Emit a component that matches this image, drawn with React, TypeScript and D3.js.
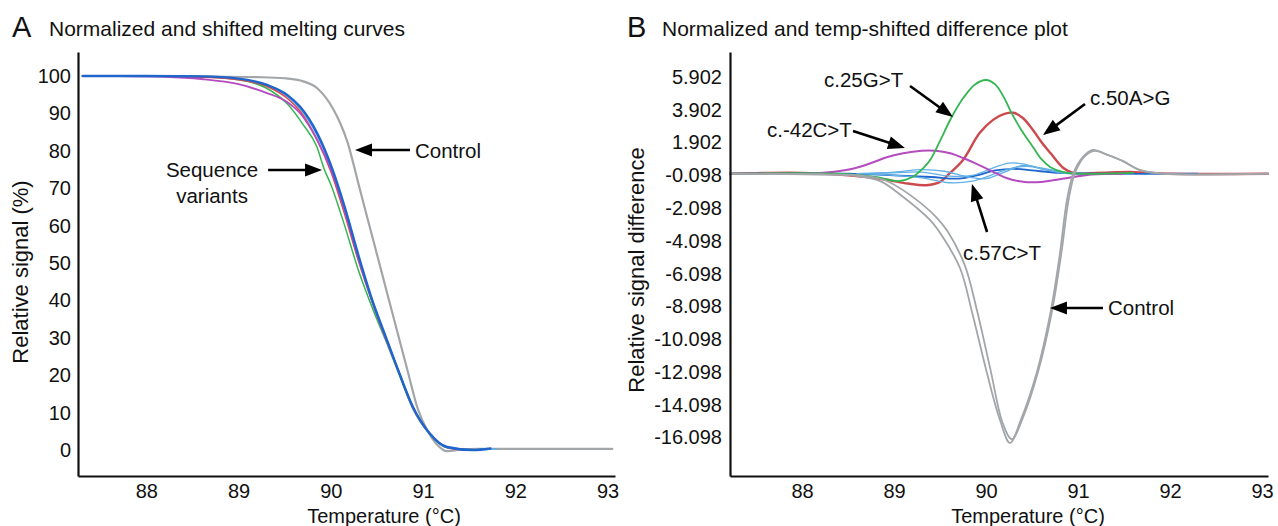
import React, { useEffect, useRef } from 'react';
import * as d3 from 'd3';

type Pt = [number, number];

const FONT = '"Liberation Sans", Arial, Helvetica, sans-serif';

// shared temperature ticks (°C)
const tempTicks = [88, 89, 90, 91, 92, 93];
// panel A: relative signal (%)
const signalTicks = [0, 10, 20, 30, 40, 50, 60, 70, 80, 90, 100];
// panel B: relative signal difference
const diffTicks = [5.902, 3.902, 1.902, -0.098, -2.098, -4.098, -6.098, -8.098, -10.098, -12.098, -14.098, -16.098];

// ---- panel A : normalized and shifted melting curves [temp, %] ----
const meltControl: Pt[] = [
  [87.31, 100], [88.0, 100], [88.6, 99.9], [89.2, 99.7], [89.5, 99.4], [89.67, 98.8], [89.85, 96.8],
  [90.03, 91], [90.1, 87.5], [90.18, 82.4], [90.29, 72.1], [90.37, 64.5], [90.54, 48.6], [90.61, 42],
  [90.83, 21.4], [90.94, 11.2], [91.05, 5], [91.15, 1.5], [91.26, -0.3], [91.4, 0.1], [91.6, 0.3], [93.05, 0.3]
];
const meltLightBlue: Pt[] = [
  [87.31, 100], [88.0, 100], [88.6, 99.9], [89.0, 99.2], [89.31, 97.4], [89.53, 94.5], [89.67, 91.2],
  [89.85, 84.2], [90.0, 75.8], [90.15, 64.6], [90.3, 51.6], [90.45, 39.8], [90.6, 29.8], [90.72, 22],
  [90.89, 11.4], [91.07, 4.5], [91.26, 0.8], [91.54, 0.1], [91.8, 0.3]
];
const meltGreen: Pt[] = [
  [87.5, 100], [88.0, 100], [88.6, 99.8], [89.0, 99], [89.3, 96.8], [89.53, 92.5], [89.7, 87],
  [89.85, 81], [89.93, 75], [90.0, 71], [90.15, 60], [90.3, 48], [90.45, 38], [90.6, 29],
  [90.72, 21.5], [90.89, 11], [91.07, 4.3], [91.26, 0.6], [91.5, 0]
];
const meltRed: Pt[] = [
  [87.7, 100], [88.0, 100], [88.6, 99.7], [89.0, 99], [89.31, 97.2], [89.53, 94], [89.67, 90.5],
  [89.85, 83], [90.0, 74.5], [90.15, 63], [90.3, 50.5], [90.45, 39.5], [90.6, 29.5], [90.72, 22],
  [90.89, 11.3], [91.07, 4.4], [91.26, 0.7], [91.5, 0.1]
];
const meltMagenta: Pt[] = [
  [87.69, 100], [88.2, 99.8], [88.6, 99.2], [89.0, 97.8], [89.3, 95.5], [89.53, 93], [89.67, 90],
  [89.85, 83], [90.0, 75], [90.15, 64], [90.3, 51], [90.45, 39.5], [90.6, 29.5], [90.72, 22],
  [90.89, 11.3], [91.07, 4.5], [91.26, 0.7], [91.45, 0]
];
const meltBlue: Pt[] = [
  [87.31, 100], [88.0, 100], [88.6, 99.9], [89.0, 99.3], [89.31, 97.6], [89.53, 94.9], [89.67, 91.7],
  [89.85, 84.8], [90.0, 76.2], [90.15, 65], [90.3, 52], [90.45, 40], [90.6, 30], [90.72, 22],
  [90.89, 11.5], [91.07, 4.5], [91.26, 0.8], [91.54, 0], [91.73, 0.4]
];

// ---- panel B : difference plot [temp, difference] ----
const diffControlA: Pt[] = [
  [87.22, 0], [88.3, -0.05], [88.6, -0.15], [88.85, -0.45], [89.1, -1.42], [89.39, -2.82], [89.53, -3.86],
  [89.72, -5.8], [89.85, -8.5], [90.01, -12.16], [90.15, -15.0], [90.26, -16.43], [90.38, -15.0],
  [90.55, -12.16], [90.7, -8.5], [90.8, -5.0], [90.88, -1.6], [90.95, 0.04], [91.05, 1.0], [91.16, 1.45],
  [91.3, 1.2], [91.46, 0.84], [91.67, 0.23], [91.9, 0.02], [93.065, 0]
];
const diffControlB: Pt[] = [
  [87.22, 0], [88.3, -0.05], [88.65, -0.12], [88.9, -0.4], [89.15, -1.2], [89.45, -2.6], [89.58, -3.5],
  [89.77, -5.6], [89.9, -8.3], [90.05, -12.0], [90.18, -15.2], [90.28, -16.2], [90.4, -14.9],
  [90.57, -12.0], [90.72, -8.3], [90.82, -4.8], [90.9, -1.5], [90.97, 0.1], [91.07, 1.05], [91.18, 1.4],
  [91.32, 1.15], [91.48, 0.8], [91.68, 0.2], [91.9, 0], [93.065, 0]
];
const diffRed: Pt[] = [
  [87.22, 0], [88.0, 0.05], [88.5, -0.1], [88.9, -0.35], [89.15, -0.6], [89.35, -0.7], [89.5, -0.5],
  [89.6, 0.0], [89.75, 0.84], [89.93, 2.48], [90.08, 3.3], [90.2, 3.65], [90.3, 3.72], [90.4, 3.4],
  [90.51, 2.67], [90.6, 1.95], [90.7, 1.26], [90.84, 0.35], [90.95, 0.05], [91.2, 0.05], [91.6, 0.1],
  [92.0, 0], [93.065, 0]
];
const diffGreen: Pt[] = [
  [87.22, 0], [88.4, 0], [88.8, -0.2], [89.05, -0.45], [89.2, -0.2], [89.32, 0.35], [89.4, 0.9],
  [89.5, 2.0], [89.61, 3.28], [89.75, 4.6], [89.88, 5.45], [90.0, 5.72], [90.1, 5.45], [90.2, 4.6],
  [90.26, 3.9], [90.38, 2.7], [90.51, 1.63], [90.6, 0.9], [90.7, 0.4], [90.84, 0.1], [91.0, 0], [91.6, 0.05]
];
const diffMagenta: Pt[] = [
  [87.22, 0], [88.1, 0.02], [88.35, 0.12], [88.55, 0.3], [88.75, 0.65], [88.92, 1.0], [89.1, 1.25],
  [89.3, 1.4], [89.45, 1.4], [89.61, 1.25], [89.75, 0.96], [89.88, 0.65], [90.01, 0.3], [90.12, 0.0],
  [90.23, -0.28], [90.35, -0.45], [90.45, -0.52], [90.6, -0.5], [90.73, -0.4], [90.95, -0.2],
  [91.15, -0.05], [91.5, 0]
];
const diffBlue: Pt[] = [
  [87.22, 0], [88.5, 0], [89.0, -0.1], [89.4, -0.2], [89.7, -0.3], [89.9, -0.1], [90.1, 0.2],
  [90.3, 0.3], [90.5, 0.2], [90.8, 0.05], [91.2, 0], [92.3, 0]
];
const diffSky1: Pt[] = [
  [88.6, 0], [89.0, 0.05], [89.3, 0.1], [89.6, -0.15], [89.85, -0.1], [90.1, 0.4], [90.25, 0.65],
  [90.4, 0.6], [90.6, 0.3], [90.85, 0.05], [91.2, 0]
];
const diffSky2: Pt[] = [
  [88.6, 0], [89.0, -0.1], [89.3, -0.25], [89.6, -0.55], [89.85, -0.45], [90.05, -0.1], [90.25, 0.3],
  [90.45, 0.45], [90.65, 0.25], [90.9, 0], [91.2, 0]
];
const diffSky3: Pt[] = [
  [88.6, 0], [89.0, 0.1], [89.3, 0.25], [89.55, 0.15], [89.8, -0.2], [90.0, -0.3], [90.2, 0.1],
  [90.4, 0.5], [90.6, 0.35], [90.85, 0.1], [91.2, 0]
];

// annotations, placed in data units: label position, arrow tail and arrow tip
type Note = { text: string[]; lx: number; ly: number; anchor: string; tail: Pt; tip: Pt };
const meltNotes: Note[] = [
  { text: ['Control'], lx: 90.912, ly: 80.2, anchor: 'start', tail: [90.858, 80.2], tip: [90.262, 80.2] },
  { text: ['Sequence', 'variants'], lx: 88.713, ly: 74.87, anchor: 'middle', tail: [89.32, 74.87], tip: [89.905, 74.87] }
];
const diffNotes: Note[] = [
  { text: ['c.25G>T'], lx: 88.239, ly: 5.72, anchor: 'start', tail: [89.174, 5.353], tip: [89.641, 3.461] },
  { text: ['c.50A>G'], lx: 91.13, ly: 4.681, anchor: 'start', tail: [91.076, 4.254], tip: [90.619, 2.362] },
  { text: ['c.-42C>T'], lx: 87.619, ly: 2.668, anchor: 'start', tail: [88.554, 2.607], tip: [89.119, 1.569] },
  { text: ['c.57C>T'], lx: 89.75, ly: -4.778, anchor: 'start', tail: [90.011, -3.557], tip: [89.847, -0.628] },
  { text: ['Control'], lx: 91.326, ly: -8.195, anchor: 'start', tail: [91.271, -8.195], tip: [90.695, -8.195] }
];

const GRAY = '#a2a6a9';
const BLUE = '#1f66cc';
const SKY = '#62b0e6';
const GREEN = '#35b552';
const RED = '#cc4a4e';
const MAGENTA = '#b44bbf';

const meltSeries = [
  { data: meltControl, color: GRAY, w: 2.2 },
  { data: meltLightBlue, color: SKY, w: 1.5 },
  { data: meltGreen, color: GREEN, w: 1.5 },
  { data: meltRed, color: '#e0464e', w: 1.5 },
  { data: meltMagenta, color: MAGENTA, w: 1.8 },
  { data: meltBlue, color: BLUE, w: 2.4 }
];
const diffSeries = [
  { data: diffRed, color: RED, w: 2.4 },
  { data: diffBlue, color: BLUE, w: 1.8 },
  { data: diffSky1, color: SKY, w: 1.3 },
  { data: diffSky2, color: SKY, w: 1.3 },
  { data: diffSky3, color: SKY, w: 1.3 },
  { data: diffMagenta, color: MAGENTA, w: 2 },
  { data: diffGreen, color: GREEN, w: 1.8 },
  { data: diffControlA, color: GRAY, w: 1.8 },
  { data: diffControlB, color: GRAY, w: 1.8 }
];

function arrow(g: any, x1: number, y1: number, x2: number, y2: number) {
  const ang = Math.atan2(y2 - y1, x2 - x1);
  const L = 17, W = 6.5;
  const bx = x2 - L * Math.cos(ang), by = y2 - L * Math.sin(ang);
  g.append('line').attr('x1', x1).attr('y1', y1).attr('x2', bx + 2 * Math.cos(ang)).attr('y2', by + 2 * Math.sin(ang))
    .attr('stroke', '#000').attr('stroke-width', 2.6);
  const px = -Math.sin(ang) * W, py = Math.cos(ang) * W;
  g.append('path').attr('d', `M${x2},${y2}L${bx + px},${by + py}L${bx - px},${by - py}Z`).attr('fill', '#000');
}

function drawPanel(svg: any, cfg: any) {
  const x = d3.scaleLinear().domain(cfg.xDomain).range([cfg.left, cfg.right]);
  const y = d3.scaleLinear().domain(cfg.yDomain).range([cfg.bottom, cfg.top]);
  const g = svg.append('g');

  // panel letter + title
  g.append('text').attr('x', cfg.letterX).attr('y', 37).attr('font-size', 29).attr('font-family', FONT)
    .attr('fill', '#111').text(cfg.letter);
  g.append('text').attr('x', cfg.titleX).attr('y', 36).attr('font-size', 21).attr('font-family', FONT)
    .attr('fill', '#111').text(cfg.title);

  // curves
  const line = d3.line<Pt>().x(d => x(d[0])).y(d => y(d[1])).curve(cfg.curve);
  cfg.series.forEach((s: any) => {
    g.append('path').attr('d', line(s.data)).attr('fill', 'none').attr('stroke', s.color)
      .attr('stroke-width', s.w).attr('stroke-linejoin', 'round').attr('stroke-linecap', 'round');
  });

  // axes
  const xAxis = g.append('g').attr('transform', `translate(0,${cfg.bottom})`)
    .call(d3.axisBottom(x).tickValues(tempTicks).tickSize(0).tickPadding(8).tickFormat((d: any) => String(d)));
  const yAxis = g.append('g').attr('transform', `translate(${cfg.left},0)`)
    .call(d3.axisLeft(y).tickValues(cfg.yTicks).tickSize(0).tickPadding(cfg.yPad).tickFormat(cfg.yFormat));
  [xAxis, yAxis].forEach(a => {
    a.attr('font-family', FONT).attr('font-size', 20);
    a.select('.domain').attr('stroke', '#111').attr('stroke-width', 2.2);
    a.selectAll('text').attr('fill', '#111');
  });

  // axis titles
  g.append('text').attr('x', cfg.xLabelX).attr('y', 516).attr('text-anchor', 'middle').attr('dominant-baseline', 'central')
    .attr('font-size', 20).attr('font-family', FONT).attr('fill', '#111').text('Temperature (°C)');
  g.append('text').attr('transform', `translate(${cfg.yLabelX},${cfg.yLabelY}) rotate(-90)`)
    .attr('text-anchor', 'middle').attr('dominant-baseline', 'central')
    .attr('font-size', 22).attr('font-family', FONT).attr('fill', '#111').text(cfg.yLabel);

  // annotations
  cfg.notes.forEach((n: Note) => {
    n.text.forEach((t, i) => {
      g.append('text').attr('x', x(n.lx)).attr('y', y(n.ly) + i * 26).attr('text-anchor', n.anchor)
        .attr('dominant-baseline', 'central').attr('font-size', 20.5).attr('font-family', FONT)
        .attr('fill', '#111').text(t);
    });
    arrow(g, x(n.tail[0]), y(n.tail[1]), x(n.tip[0]), y(n.tip[1]));
  });
}

export default function App() {
  const ref = useRef<SVGSVGElement>(null);

  useEffect(() => {
    const svg = d3.select(ref.current);
    svg.selectAll('*').remove();

    drawPanel(svg, {
      letter: 'A', letterX: 12, title: 'Normalized and shifted melting curves', titleX: 49,
      xDomain: [87.26, 93.08], left: 78, right: 615,
      yDomain: [-6.95, 106.42], bottom: 476, top: 52,
      yTicks: signalTicks, yPad: 7, yFormat: (d: any) => String(d),
      series: meltSeries, curve: d3.curveMonotoneX,
      xLabelX: 384, yLabelX: 20, yLabelY: 272, yLabel: 'Relative signal (%)',
      notes: meltNotes
    });

    drawPanel(svg, {
      letter: 'B', letterX: 627, title: 'Normalized and temp-shifted difference plot', titleX: 662,
      xDomain: [87.217, 93.065], left: 730, right: 1268,
      yDomain: [-18.448, 7.428], bottom: 476, top: 52,
      yTicks: diffTicks, yPad: 8, yFormat: (d: any) => d.toFixed(3),
      series: diffSeries, curve: d3.curveCatmullRom.alpha(0.5),
      xLabelX: 1028, yLabelX: 636, yLabelY: 270, yLabel: 'Relative signal difference',
      notes: diffNotes
    });
  }, []);

  return (
    <svg ref={ref} width={1278} height={526}
      style={{ position: 'absolute', left: 0, top: 0, background: '#fff' }} />
  );
}
